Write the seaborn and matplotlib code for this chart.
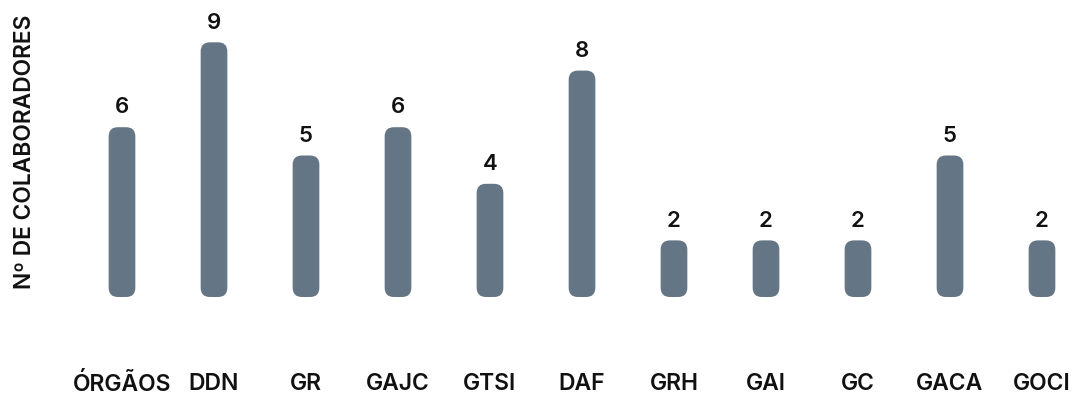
import matplotlib
matplotlib.use("Agg")
import matplotlib.pyplot as plt
from matplotlib.patches import FancyBboxPatch
import seaborn as sns
import pandas as pd

# Collaborators per organisational unit
areas = ["ÓRGÃOS", "DDN", "GR", "GAJC", "GTSI", "DAF", "GRH", "GAI", "GC", "GACA", "GOCI"]
colaboradores = [6, 9, 5, 6, 4, 8, 2, 2, 2, 5, 2]

BAR_COLOR = "#647585"
TEXT_COLOR = "#111111"

sns.set_theme(style="white")
plt.rcParams["font.family"] = ["Inter", "DejaVu Sans"]

W, H, DPI = 1077, 396, 100
fig = plt.figure(figsize=(W / DPI, H / DPI), dpi=DPI)

# axes placed in pixel terms: slot width 92 px, 28.3 px per collaborator
x0, x1 = -0.4, 10.35
ax_left_px = 122 + x0 * 92
ax_w_px = (x1 - x0) * 92
ax_bottom_px = 396 - 297
ax_h_px = 297
ax = fig.add_axes([ax_left_px / W, ax_bottom_px / H, ax_w_px / W, ax_h_px / H])

df = pd.DataFrame({"area": areas, "n": colaboradores})
sns.barplot(data=df, x="area", y="n", color=BAR_COLOR, width=0.29,
            saturation=1, ax=ax, order=areas)

ax.set_xlim(x0, x1)
ax.set_ylim(0, ax_h_px / 28.3)

# swap the square bars for rounded ones
aspect = (1 / 28.3) / (1 / 92)
for patch in list(ax.patches):
    x, y = patch.get_xy()
    w, h = patch.get_width(), patch.get_height()
    rounded = FancyBboxPatch((x, y), w, h,
                             boxstyle="round,pad=0,rounding_size=0.1",
                             mutation_aspect=aspect,
                             facecolor=BAR_COLOR, edgecolor="none")
    ax.add_patch(rounded)
    patch.set_visible(False)

for container in ax.containers:
    ax.bar_label(container, labels=[str(v) for v in colaboradores],
                 padding=7, fontsize=16, fontweight=600, color=TEXT_COLOR)

ax.set_xlabel("")
ax.set_ylabel("")
ax.set_yticks([])
ax.tick_params(axis="x", length=0, pad=55, labelsize=16.5, labelcolor=TEXT_COLOR)
for lbl in ax.get_xticklabels():
    lbl.set_fontweight(600)
sns.despine(ax=ax, left=True, bottom=True, top=True, right=True)

fig.text(25 / W, 1 - 152 / H, "Nº DE COLABORADORES", rotation=90,
         ha="center", va="center", fontsize=16.4, fontweight=600, color=TEXT_COLOR)

fig.savefig("out.png", dpi=DPI, facecolor="white")
